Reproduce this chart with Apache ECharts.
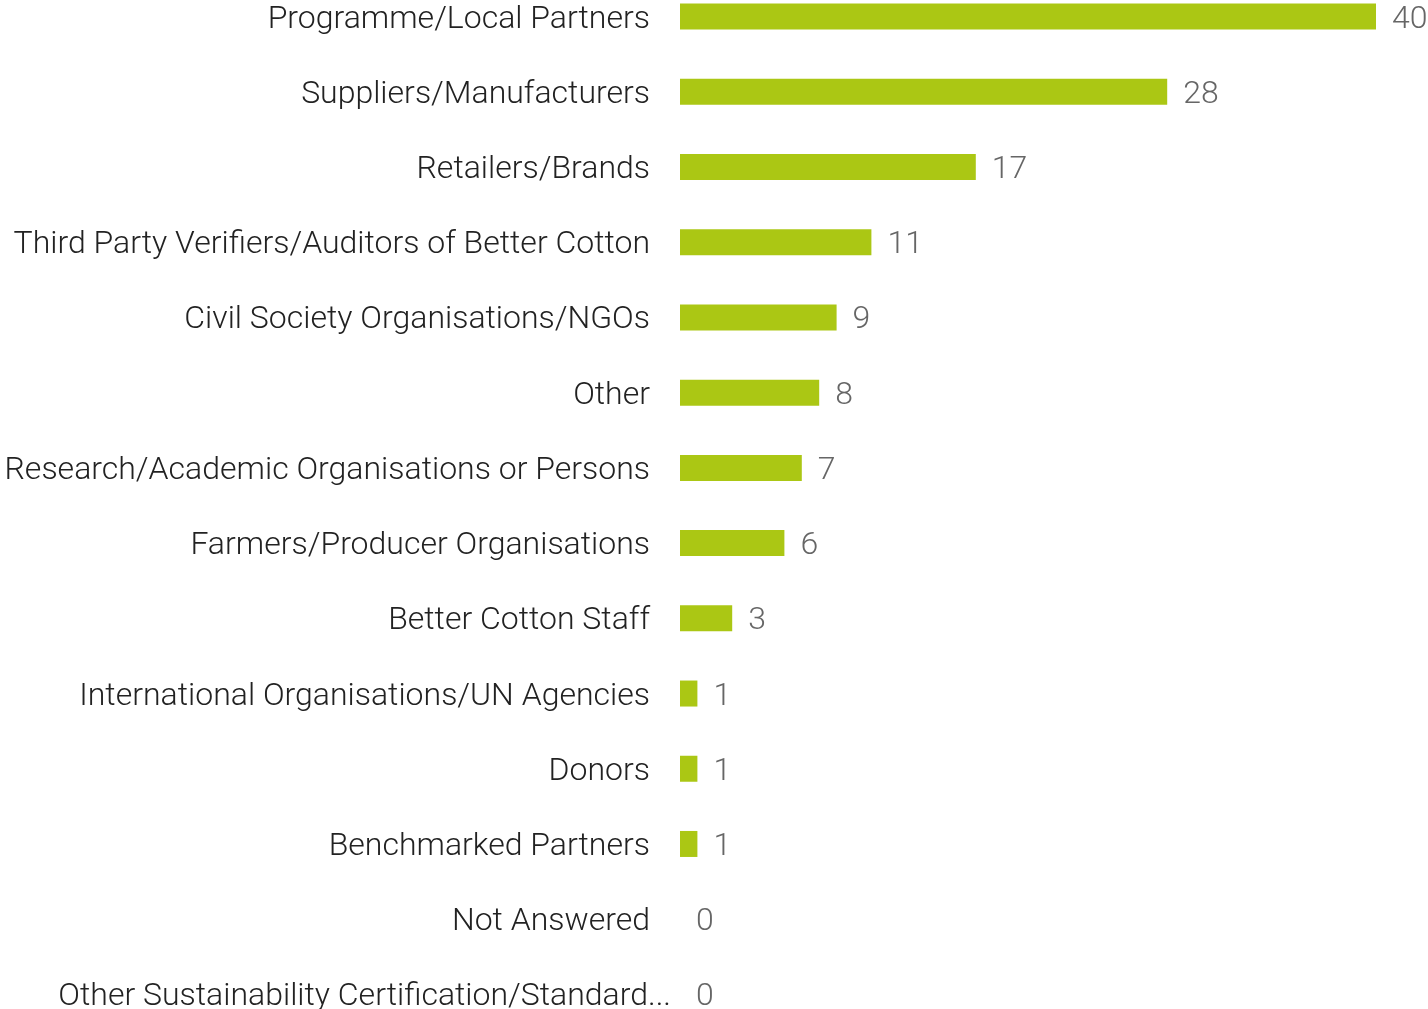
<!DOCTYPE html>
<html>
<head>
<meta charset="utf-8">
<script src="https://cdn.jsdelivr.net/npm/echarts@6/dist/echarts.min.js"></script>
<style>
  html, body { margin: 0; padding: 0; background: #fff; }
  #chart { width: 1428px; height: 1009px; }
</style>
</head>
<body>
<div id="chart"></div>
<script>
const categories = [
  'Programme/Local Partners',
  'Suppliers/Manufacturers',
  'Retailers/Brands',
  'Third Party Verifiers/Auditors of Better Cotton',
  'Civil Society Organisations/NGOs',
  'Other',
  'Research/Academic Organisations or Persons',
  'Farmers/Producer Organisations',
  'Better Cotton Staff',
  'International Organisations/UN Agencies',
  'Donors',
  'Benchmarked Partners',
  'Not Answered',
  'Other Sustainability Certification/Standard...'
]
const counts = [40, 28, 17, 11, 9, 8, 7, 6, 3, 1, 1, 1, 0, 0]

const chart = echarts.init(document.getElementById('chart'))

const font = { fontFamily: 'Roboto', fontWeight: 300, fontSize: 32 }

const option = {
  animation: false,
  grid: {
    left: 680,
    right: 52,
    top: -21,
    height: 1053,
    outerBoundsMode: 'none',
    containLabel: false
  },
  xAxis: {
    type: 'value',
    min: 0,
    max: 40,
    show: false
  },
  yAxis: {
    type: 'category',
    inverse: true,
    data: categories,
    axisLine: { show: false },
    axisTick: { show: false },
    axisLabel: {
      margin: 30,
      color: '#222',
      padding: [6, 0, 0, 0],
      ...font,
      // truncated label hangs past the right edge like in the original
      formatter: (v) => {
        if (v.endsWith('...')) {
          return '{a|' + v.slice(0, -3) + '}{b|...}'
        }
        return v
      },
      rich: {
        a: { color: '#222', ...font, align: 'left' },
        b: { color: '#222', ...font, width: 2, align: 'left' }
      }
    }
  },
  series: [
    {
      type: 'bar',
      data: counts,
      barWidth: 26,
      itemStyle: { color: '#abc714' },
      label: {
        show: true,
        position: 'right',
        distance: 16,
        offset: [0, 3],
        color: '#666',
        ...font
      }
    }
  ]
}

chart.setOption(option)
</script>
</body>
</html>
